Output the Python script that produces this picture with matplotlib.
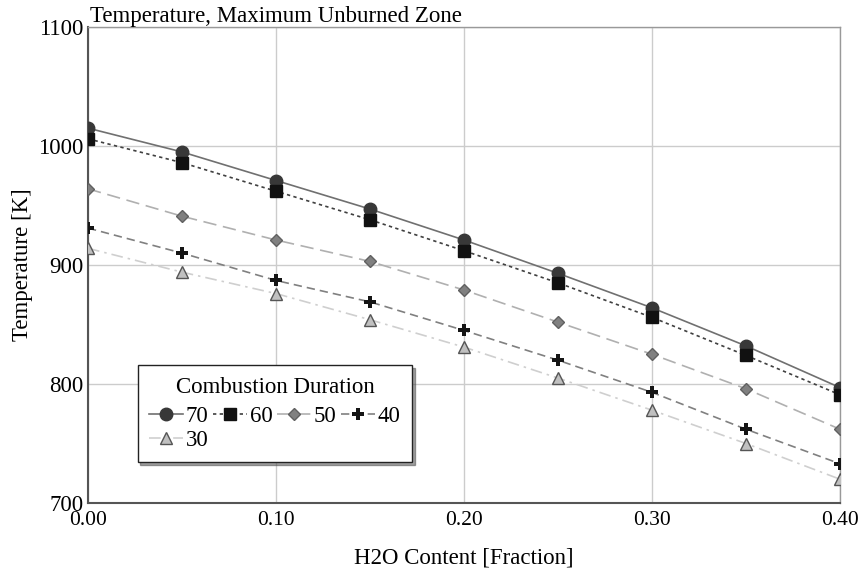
import numpy as np
import matplotlib
matplotlib.use('Agg')
import matplotlib.pyplot as plt

plt.rcParams['font.family'] = ['Liberation Serif', 'DejaVu Serif']

# H2O content (fraction)
h2o = [0.00, 0.05, 0.10, 0.15, 0.20, 0.25, 0.30, 0.35, 0.40]

# max unburned zone temperature [K] per combustion duration
t70 = [1015, 995, 971, 947, 921, 893, 864, 832, 797]
t60 = [1006, 986, 962, 938, 912, 885, 856, 824, 791]
t50 = [964, 941, 921, 903, 879, 852, 825, 796, 762]
t40 = [931, 910, 887, 869, 845, 820, 793, 762, 733]
t30 = [914, 894, 876, 854, 831, 805, 778, 750, 720]

xticks = [0.0, 0.1, 0.2, 0.3, 0.4]
xticklabels = ['0.00', '0.10', '0.20', '0.30', '0.40']
yticks = [700, 800, 900, 1000, 1100]

fs = 16.5

fig = plt.figure(figsize=(8.58, 5.68), dpi=100)
ax = fig.add_axes([0.1026, 0.1144, 0.8764, 0.8381])

l70, = ax.plot(h2o, t70, '-', color='#707070', lw=1.2, marker='o', ms=9,
               mfc='#383838', mec='#383838', label='70', zorder=5)
l60, = ax.plot(h2o, t60, linestyle=(0, (2, 2)), color='#404040', lw=1.2, marker='s', ms=8.5,
               mfc='#111111', mec='#111111', label='60', zorder=5)
l50, = ax.plot(h2o, t50, linestyle=(0, (8, 4)), color='#b0b0b0', lw=1.2, marker='D', ms=6.5,
               mfc='#808080', mec='#606060', label='50', zorder=4)
l40, = ax.plot(h2o, t40, linestyle=(0, (5, 3)), color='#808080', lw=1.2, marker='P', ms=8.5,
               mfc='#151515', mec='#151515', mew=0, label='40', zorder=4)
l30, = ax.plot(h2o, t30, linestyle=(0, (7, 3, 1.5, 3)), color='#cfcfcf', lw=1.2, marker='^', ms=8.5,
               mfc='#c0c0c0', mec='#555555', label='30', zorder=3)

ax.set_xlim(0, 0.4)
ax.set_ylim(700, 1100)
ax.set_xticks(xticks)
ax.set_xticklabels(xticklabels)
ax.set_yticks(yticks)
ax.tick_params(axis='x', length=0, labelsize=15.5, pad=6)
ax.tick_params(axis='y', length=0, labelsize=fs, pad=3)
ax.grid(True, color='#cccccc', lw=1)
ax.set_axisbelow(True)
for s in ['left', 'bottom']:
    ax.spines[s].set_color('#555555')
    ax.spines[s].set_linewidth(1.5)
for s in ['top', 'right']:
    ax.spines[s].set_color('#999999')
    ax.spines[s].set_linewidth(1)

ax.set_xlabel('H2O Content [Fraction]', fontsize=fs, labelpad=12)
ax.set_ylabel('Temperature [K]', fontsize=fs, labelpad=4)
ax.set_title('Temperature, Maximum Unburned Zone', fontsize=fs, loc='left', pad=0, x=0.003)

# order so the column-filled legend reads 70 60 50 40 / 30
handles = [l70, l30, l60, l50, l40]
leg = ax.legend(handles, [h.get_label() for h in handles],
                title='Combustion Duration', ncol=4, loc='lower left',
                bbox_to_anchor=(0.066, 0.086), fontsize=fs, title_fontsize=fs,
                fancybox=False, shadow={'color': '#444444'}, framealpha=1,
                edgecolor='#222222', handlelength=1.5, handletextpad=0.1, columnspacing=0.2,
                borderpad=0.5, labelspacing=0.1, borderaxespad=0)
leg.get_frame().set_linewidth(1)
leg._legend_box.sep = 6

fig.savefig('out.png', dpi=100)
